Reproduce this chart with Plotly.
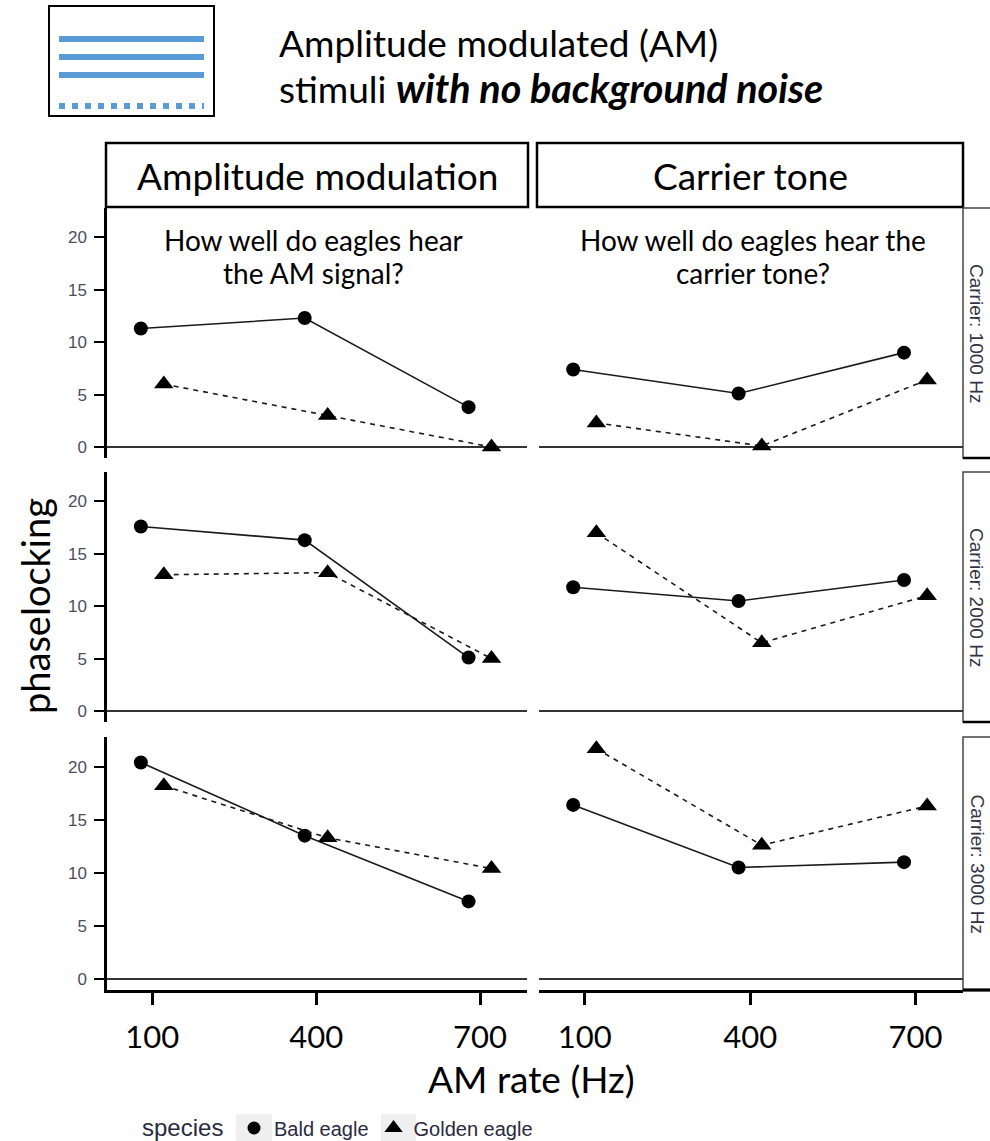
import plotly.graph_objects as go

# ---- data -------------------------------------------------------------
am_rates = [100, 400, 700]
carriers = ["Carrier: 1000 Hz", "Carrier: 2000 Hz", "Carrier: 3000 Hz"]
columns = ["Amplitude modulation", "Carrier tone"]
species = ["Bald eagle", "Golden eagle"]

# phaselocking to the amplitude modulation, one list per carrier
bald_am_1000 = [11.3, 12.3, 3.8]
golden_am_1000 = [6.0, 3.0, 0.0]
bald_am_2000 = [17.6, 16.3, 5.1]
golden_am_2000 = [13.0, 13.2, 5.0]
bald_am_3000 = [20.4, 13.5, 7.3]
golden_am_3000 = [18.2, 13.3, 10.4]

# phaselocking to the carrier tone, one list per carrier
bald_ct_1000 = [7.4, 5.1, 9.0]
golden_ct_1000 = [2.3, 0.1, 6.4]
bald_ct_2000 = [11.8, 10.5, 12.5]
golden_ct_2000 = [17.0, 6.5, 11.0]
bald_ct_3000 = [16.4, 10.5, 11.0]
golden_ct_3000 = [21.7, 12.6, 16.3]

y_ticks = [0, 5, 10, 15, 20]

panels = [
    [(bald_am_1000, golden_am_1000), (bald_ct_1000, golden_ct_1000)],
    [(bald_am_2000, golden_am_2000), (bald_ct_2000, golden_ct_2000)],
    [(bald_am_3000, golden_am_3000), (bald_ct_3000, golden_ct_3000)],
]

# ---- geometry (pixels -> paper) ---------------------------------------
W, H = 990, 1141


def px(x):
    return x / W


def py(y):
    return 1 - y / H


col_px = [(107, 527), (539, 963)]
row_px = [(208, 458), (472, 722), (737, 990)]
X_RANGE = [17, 786]
Y_RANGE = [-1.05, 22.8]
DODGE = 21  # horizontal dodge between species (Hz)

TXT_FONT = "Lato"
SMALL_FONT = "Liberation Sans, Arial"
TICK_GREY = "#4d4d5c"
LEGEND_TXT = "#2a2a40"

fig = go.Figure()
layout = {}

for r in range(3):
    for c in range(2):
        idx = r * 2 + c + 1
        xa = "xaxis" if idx == 1 else f"xaxis{idx}"
        ya = "yaxis" if idx == 1 else f"yaxis{idx}"
        xref = "x" if idx == 1 else f"x{idx}"
        yref = "y" if idx == 1 else f"y{idx}"
        bottom = r == 2
        layout[xa] = dict(
            domain=[px(col_px[c][0]), px(col_px[c][1])],
            anchor=yref,
            range=X_RANGE,
            tickvals=am_rates,
            showgrid=False,
            zeroline=False,
            showline=bottom,
            linecolor="black",
            linewidth=3,
            ticks="outside" if bottom else "",
            ticklen=12,
            tickwidth=3,
            tickcolor="black",
            ticklabelstandoff=6,
            showticklabels=bottom,
            tickfont=dict(family=TXT_FONT, size=31, color="black"),
        )
        layout[ya] = dict(
            domain=[py(row_px[r][1]), py(row_px[r][0])],
            anchor=xref,
            range=Y_RANGE,
            tickvals=y_ticks,
            showgrid=False,
            zeroline=True,
            zerolinecolor="#333333",
            zerolinewidth=2,
            showline=(c == 0),
            linecolor="black",
            linewidth=2.5,
            ticks="outside" if c == 0 else "",
            ticklen=10,
            tickwidth=2,
            tickcolor="black",
            ticklabelstandoff=4,
            showticklabels=(c == 0),
            tickfont=dict(family=SMALL_FONT, size=17, color=TICK_GREY),
        )

        bald, golden = panels[r][c]
        fig.add_trace(go.Scatter(
            x=[a - DODGE for a in am_rates], y=bald,
            xaxis=xref, yaxis=yref, mode="lines+markers",
            line=dict(color="#1a1a1a", width=1.6),
            marker=dict(symbol="circle", size=14, color="black"),
            showlegend=False, cliponaxis=False,
        ))
        fig.add_trace(go.Scatter(
            x=[a + DODGE for a in am_rates], y=golden,
            xaxis=xref, yaxis=yref, mode="lines+markers",
            line=dict(color="#1a1a1a", width=1.6, dash="5px,5px"),
            marker=dict(symbol="triangle-up", size=17, color="black"),
            showlegend=False, cliponaxis=False,
        ))

# legend entries (markers only)
fig.add_trace(go.Scatter(x=[None], y=[None], mode="markers", name=species[0],
                         marker=dict(symbol="circle", size=13, color="black")))
fig.add_trace(go.Scatter(x=[None], y=[None], mode="markers", name=species[1],
                         marker=dict(symbol="triangle-up", size=16, color="black")))

shapes = []
annotations = []

# header icon: box with three solid and one dotted blue line
shapes.append(dict(type="rect", xref="paper", yref="paper",
                   x0=px(49), x1=px(214), y0=py(116), y1=py(6),
                   line=dict(color="black", width=2), fillcolor="white"))
for yy in (39, 57, 75):
    shapes.append(dict(type="line", xref="paper", yref="paper",
                       x0=px(59), x1=px(204), y0=py(yy), y1=py(yy),
                       line=dict(color="#5B9BD5", width=6)))
shapes.append(dict(type="line", xref="paper", yref="paper",
                   x0=px(59), x1=px(204), y0=py(106), y1=py(106),
                   line=dict(color="#5B9BD5", width=6, dash="6px,7px")))

annotations.append(dict(
    text="Amplitude modulated (AM)", xref="paper", yref="paper",
    x=px(277), y=py(42), xanchor="left", yanchor="middle", showarrow=False,
    font=dict(family=TXT_FONT, size=37, color="black"),
))
annotations.append(dict(
    text="stimuli <span style='font-size:39.5px'><b><i>with no background noise</i></b></span>",
    xref="paper", yref="paper",
    x=px(277), y=py(88), xanchor="left", yanchor="middle", showarrow=False,
    font=dict(family=TXT_FONT, size=37, color="black"),
))

# column strips
for c, label in enumerate(columns):
    x0, x1 = (106, 528) if c == 0 else (537, 963)
    shapes.append(dict(type="rect", xref="paper", yref="paper",
                       x0=px(x0), x1=px(x1), y0=py(207), y1=py(143),
                       line=dict(color="black", width=2.5), fillcolor="white"))
    annotations.append(dict(text=label, xref="paper", yref="paper",
                            x=px((x0 + x1) / 2), y=py(175), showarrow=False,
                            xanchor="center", yanchor="middle",
                            font=dict(family=TXT_FONT, size=37, color="black")))

# row strips
for r, label in enumerate(carriers):
    y0, y1 = row_px[r]
    shapes.append(dict(type="rect", xref="paper", yref="paper",
                       x0=px(963), x1=px(1000), y0=py(y1), y1=py(y0),
                       line=dict(color="#444444", width=1.5), fillcolor="white"))
    shapes.append(dict(type="line", xref="paper", yref="paper",
                       x0=px(963), x1=px(1000), y0=py(y1), y1=py(y1),
                       line=dict(color="black", width=2.5)))
    annotations.append(dict(text=label, xref="paper", yref="paper",
                            x=px(977), y=py((y0 + y1) / 2), showarrow=False,
                            textangle=90, xanchor="center", yanchor="middle",
                            font=dict(family=SMALL_FONT, size=19, color="#333344")))

# bottom axis line continues under the row strips
shapes.append(dict(type="line", xref="paper", yref="paper",
                   x0=px(963), x1=px(990), y0=py(990), y1=py(990),
                   line=dict(color="black", width=3)))

# grey key backgrounds behind the legend symbols
for kx0, kx1 in ((236, 272), (381, 416)):
    shapes.append(dict(type="rect", xref="paper", yref="paper",
                       x0=px(kx0), x1=px(kx1), y0=py(1141), y1=py(1114),
                       line=dict(width=0), fillcolor="#efefef", layer="below"))

# legend title
annotations.append(dict(text="species", xref="paper", yref="paper",
                        x=px(140), y=py(1127), xanchor="left", yanchor="middle",
                        showarrow=False,
                        font=dict(family=SMALL_FONT, size=24, color=LEGEND_TXT)))

# panel questions, one annotation per line
questions = [
    (313, ["How well do eagles hear", "the AM signal?"]),
    (753, ["How well do eagles hear the", "carrier tone?"]),
]
for xc, lines in questions:
    for i, line in enumerate(lines):
        annotations.append(dict(text=line, xref="paper", yref="paper",
                                x=px(xc), y=py(240 + 33 * i),
                                xanchor="center", yanchor="middle", showarrow=False,
                                font=dict(family=TXT_FONT, size=28, color="black")))

# axis titles
annotations.append(dict(text="phaselocking", xref="paper", yref="paper",
                        x=px(35), y=py(606), textangle=-90, showarrow=False,
                        xanchor="center", yanchor="middle",
                        font=dict(family=TXT_FONT, size=38, color="black")))
annotations.append(dict(text="AM rate (Hz)", xref="paper", yref="paper",
                        x=px(531), y=py(1078), showarrow=False,
                        xanchor="center", yanchor="middle",
                        font=dict(family=TXT_FONT, size=37, color="black")))

layout.update(
    width=W, height=H,
    margin=dict(l=0, r=0, t=0, b=0, autoexpand=False),
    paper_bgcolor="white", plot_bgcolor="white",
    shapes=shapes, annotations=annotations,
    showlegend=True,
    legend=dict(
        orientation="h", x=px(234), y=py(1128), xanchor="left", yanchor="middle",
        font=dict(family=SMALL_FONT, size=20, color=LEGEND_TXT),
        itemwidth=30, bgcolor="rgba(0,0,0,0)", valign="middle",
    ),
)
fig.update_layout(**layout)

fig.write_html("out.html")
